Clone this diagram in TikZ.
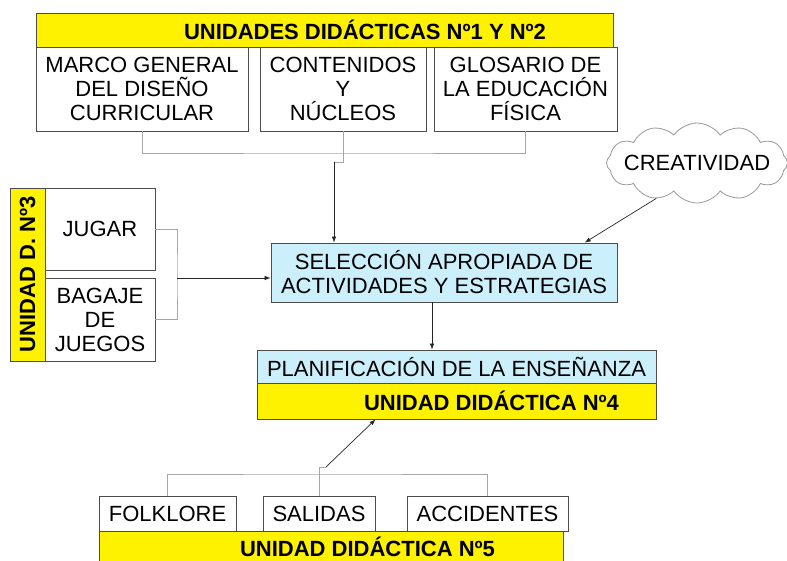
\documentclass[tikz,border=0pt]{standalone}
\usepackage{fontspec}
\setmainfont{Liberation Sans}
\usetikzlibrary{arrows.meta,shapes.symbols}
\newcommand\fz{\fontsize{22pt}{24pt}\selectfont}

\begin{document}
\begin{tikzpicture}[x=1pt,y=-1pt,
box/.style={draw=black!70, line width=.8pt, fill=white, inner sep=0pt, align=center, font=\fz},
ybox/.style={box, fill=yellow, font=\fz\bfseries},
cbox/.style={box, fill=cyan!20},
gline/.style={draw=black!35, line width=.9pt},
arr/.style={draw=black!85, line width=.7pt, -{Latex[length=6pt,width=4.5pt]}}]
\useasboundingbox (0,0) rectangle (787,560);

\node (u12) at (324.5,30) [ybox, minimum width=577pt, minimum height=34pt] {\hspace*{81pt}UNIDADES DIDÁCTICAS Nº1 Y Nº2};
\node (marco) at (142,89) [box, minimum width=212pt, minimum height=84pt] {MARCO GENERAL\\DEL DISEÑO\\CURRICULAR};
\node (cont) at (343,89) [box, minimum width=166pt, minimum height=84pt] {CONTENIDOS\\Y\\NÚCLEOS};
\node (glos) at (525.5,89) [box, minimum width=183pt, minimum height=84pt] {GLOSARIO DE\\LA EDUCACIÓN\\FÍSICA};

\node (u3) at (27.5,274.5) [ybox, rotate=90, minimum width=173pt, minimum height=35pt] {UNIDAD D. Nº3};
\node (jugar) at (100,229) [box, minimum width=110pt, minimum height=82pt] {JUGAR};
\node (bagaje) at (100,319.5) [box, minimum width=110pt, minimum height=83pt] {BAGAJE\\DE\\JUEGOS};

\node (crea) at (697,163) [cloud, cloud puffs=12, cloud puff arc=110, cloud ignores aspect, draw=black!40, line width=.8pt, fill=white, inner sep=0pt, minimum width=181pt, minimum height=80pt, font=\fz] {\makebox[0pt]{CREATIVIDAD}};

\node (sel) at (444,272.5) [cbox, minimum width=346pt, minimum height=59pt] {SELECCIÓN APROPIADA DE\\ACTIVIDADES Y ESTRATEGIAS};
\node (plan) at (456.5,366.5) [cbox, minimum width=399pt, minimum height=33pt] {PLANIFICACIÓN DE LA ENSEÑANZA};
\node (u4) at (456.5,401) [ybox, minimum width=399pt, minimum height=36pt] {\hspace*{70pt}UNIDAD DIDÁCTICA Nº4};

\node (folk) at (167.5,513.5) [box, minimum width=137pt, minimum height=35pt] {FOLKLORE};
\node (sal) at (319,513.5) [box, minimum width=112pt, minimum height=35pt] {SALIDAS};
\node (acc) at (487.5,513.5) [box, minimum width=161pt, minimum height=35pt] {ACCIDENTES};
\node (u5) at (331,547) [ybox, minimum width=464pt, minimum height=32pt] {\hspace*{73pt}UNIDAD DIDÁCTICA Nº5};

% elbows
\coordinate (t0) at (343,153);
\coordinate (t1) at (343,162);
\coordinate (t2) at (334,162);
\coordinate (k0) at (177,278);
\coordinate (d0) at ([xshift=-12pt]sel.south);
\coordinate (s0) at (319,474);
\coordinate (s1) at (319,467);
\coordinate (s2) at (326,467);
\coordinate (s3) at ([xshift=-81pt]u4.south);

\draw[gline]
(marco.south) |- (t0) -| (glos.south)
(cont.south) -- (t1) -- (t2)
(jugar.east) -| (k0) |- (bagaje.east)
(folk.north) |- (s0) -| (acc.north)
(sal.north) -- (s1) -- (s2);

\draw[arr] (t2) -- (t2 |- sel.north);
\draw[arr] (k0) -- (k0 -| sel.west);
\draw[arr] (crea.221) -- (sel.12);
\draw[arr] (d0) -- (d0 |- plan.north);
\draw[arr] (s2) -- (s3);
\end{tikzpicture}
\end{document}
